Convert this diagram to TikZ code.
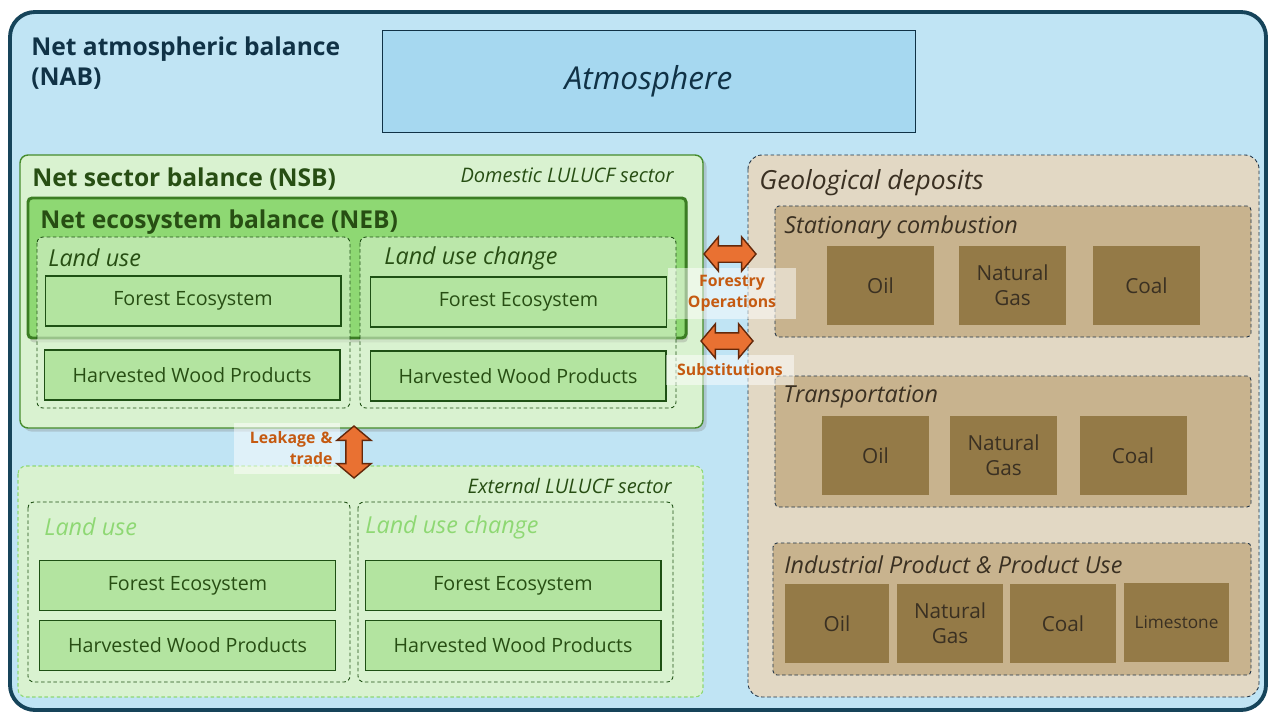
\documentclass[tikz,border=0pt]{standalone}
\usepackage{fontspec}
\setmainfont{Open Sans}
\usepackage{tikz}
\usetikzlibrary{
	arrows.meta,
	shapes.arrows,
	shadows,
	positioning
}
\definecolor{NabLine}{RGB}{22,68,90}
\definecolor{NabFill}{RGB}{192,228,244}
\definecolor{NabText}{RGB}{16,50,70}
\definecolor{AtmoFill}{RGB}{166,216,240}
\definecolor{NsbFill}{RGB}{217,242,208}
\definecolor{NsbLine}{RGB}{70,140,45}
\definecolor{NebFill}{RGB}{142,216,115}
\definecolor{NebLine}{RGB}{59,125,35}
\definecolor{LeafFill}{RGB}{179,228,160}
\definecolor{LeafLine}{RGB}{30,80,20}
\definecolor{LeafText}{RGB}{39,78,19}
\definecolor{GeoFill}{RGB}{226,216,196}
\definecolor{GeoLine}{RGB}{30,50,70}
\definecolor{SrcFill}{RGB}{200,179,142}
\definecolor{FuelFill}{RGB}{148,122,71}
\definecolor{GeoText}{RGB}{58,48,34}
\definecolor{FlowFill}{RGB}{233,113,50}
\definecolor{FlowLine}{RGB}{100,40,10}
\definecolor{FlowText}{RGB}{197,90,17}

\begin{document}
\begin{tikzpicture}[x=0.02cm, y=-0.02cm,
		title/.style={font=\bfseries\fontsize{14}{17.6}\selectfont, anchor=west, inner sep=0pt, yshift=-0.04cm},
		tag/.style={font=\itshape\fontsize{13.3}{15}\selectfont, anchor=west, inner sep=0pt, yshift=-0.04cm},
		leaf/.style={draw=LeafLine, fill=LeafFill, line width=0.6pt, text=LeafText,
			minimum width=5.92cm, minimum height=1cm, inner sep=0pt, font=\fontsize{11.2}{13}\selectfont},
		fuel/.style={fill=FuelFill, text=GeoText, minimum width=2.14cm, minimum height=1.58cm,
			inner sep=0pt, align=center, font=\fontsize{11.8}{14}\selectfont},
		landbox/.style={draw=LeafLine, dash pattern=on 2pt off 1.5pt, line width=0.5pt,
			rounded corners=0.12cm, fill=NsbFill, fill opacity=0.6},
		srcbox/.style={draw=GeoLine, dash pattern=on 2pt off 1.5pt, line width=0.5pt,
			rounded corners=0.08cm, fill=SrcFill},
		flow/.style={shape=double arrow, draw=FlowLine, fill=FlowFill, line width=0.8pt,
			inner xsep=0pt, inner ysep=0.15cm, minimum width=0.66cm, minimum height=1.04cm,
			double arrow head extend=0.18cm, double arrow tip angle=100},
		flowlabel/.style={fill=white, fill opacity=0.5, text opacity=1, text=FlowText,
			font=\bfseries\fontsize{9}{12}\selectfont, inner sep=0pt}
	]
	\useasboundingbox (0,0) rectangle (1280,720);
	% atmosphere
	\draw[NabLine, fill=NabFill, line width=2.2pt, rounded corners=0.5cm] (10,12) rectangle (1266,710);
	\node[title, text=NabText, anchor=north west, align=left] (nab) at (31,34) {Net atmospheric balance\\(NAB)};
	\node[draw=NabText, fill=AtmoFill, line width=0.5pt, minimum width=10.66cm, minimum height=2.04cm,
		text=NabText, font=\itshape\fontsize{18}{20}\selectfont] (atmo) at (648.5,81) {Atmosphere};

	% domestic sector
	\draw[NsbLine, fill=NsbFill, line width=0.8pt, rounded corners=0.16cm,
		drop shadow={shadow xshift=2pt, shadow yshift=-2pt, opacity=0.3}] (20,155) rectangle (703,428);
	\node[title, text=LeafText] (nsb) at (32,177) {Net sector balance (NSB)};
	\node[tag, anchor=east, text=LeafText, font=\itshape\fontsize{11.4}{13}\selectfont] (domestic) at (674,173) {Domestic LULUCF sector};
	\draw[NebLine, fill=NebFill, line width=1.7pt, rounded corners=0.08cm,
		drop shadow={shadow xshift=1pt, shadow yshift=-2.5pt, opacity=0.3}] (28,198) rectangle (686,338);
	\node[title, text=LeafText] (neb) at (40,220) {Net ecosystem balance (NEB)};
	\draw[landbox] (37,237) rectangle (350,408);
	\draw[landbox] (360,237) rectangle (676,408);
	\node[tag, text=LeafText] (lu) at (48,256) {Land use};
	\node[tag, text=LeafText] (luc) at (384,256) {Land use change};
	\node[leaf] (lu-fe) at (193,301) {Forest Ecosystem};
	\node[leaf] (luc-fe) at (518.5,302) {Forest Ecosystem};
	\node[leaf] (lu-hwp) at (192,375) {Harvested Wood Products};
	\node[leaf] (luc-hwp) at (518,376) {Harvested Wood Products};

	% external sector
	\draw[NebFill, fill=NsbFill, line width=0.6pt, dash pattern=on 2pt off 1.5pt, rounded corners=0.16cm] (18,466) rectangle (703,697);
	\node[tag, anchor=east, text=LeafText, font=\itshape\fontsize{11.4}{13}\selectfont] (external) at (672,484) {External LULUCF sector};
	\draw[landbox] (28,502) rectangle (350,682);
	\draw[landbox] (358,502) rectangle (673,682);
	\node[tag, text=NebFill] (ext-lu) at (44,525) {Land use};
	\node[tag, text=NebFill] (ext-luc) at (365,525) {Land use change};
	\node[leaf] (ext-lu-fe) at (187.5,585.5) {Forest Ecosystem};
	\node[leaf] (ext-luc-fe) at (513,585.5) {Forest Ecosystem};
	\node[leaf] (ext-lu-hwp) at (187.5,645.5) {Harvested Wood Products};
	\node[leaf] (ext-luc-hwp) at (513,645.5) {Harvested Wood Products};

	% geological deposits
	\draw[GeoLine, fill=GeoFill, line width=0.5pt, dash pattern=on 2pt off 1.5pt, rounded corners=0.28cm] (748,155) rectangle (1259,697);
	\node[tag, text=GeoText, font=\itshape\fontsize{15}{17}\selectfont] (geo) at (759,181) {Geological deposits};
	\draw[srcbox] (775,206) rectangle (1251,337);
	\node[tag, text=GeoText] (stat) at (784,225) {Stationary combustion};
	\node[fuel] (stat-oil) at (880.5,285.5) {Oil};
	\node[fuel] (stat-gas) at (1012.5,285.5) {Natural\\Gas};
	\node[fuel] (stat-coal) at (1146.5,285.5) {Coal};
	\draw[srcbox] (775,376) rectangle (1251,507);
	\node[tag, text=GeoText] (trans) at (783,395) {Transportation};
	\node[fuel] (trans-oil) at (875.5,455.5) {Oil};
	\node[fuel] (trans-gas) at (1003.5,455.5) {Natural\\Gas};
	\node[fuel] (trans-coal) at (1133,455.5) {Coal};
	\draw[srcbox] (773,543) rectangle (1251,675);
	\node[tag, text=GeoText] (ippu) at (784,563) {Industrial Product \& Product Use};
	\node[fuel, minimum width=2.08cm] (ippu-oil) at (837,623.5) {Oil};
	\node[fuel, minimum width=2.12cm] (ippu-gas) at (950,623.5) {Natural\\Gas};
	\node[fuel, minimum width=2.12cm] (ippu-coal) at (1063,623.5) {Coal};
	\node[fuel, minimum width=2.1cm, font=\fontsize{9.8}{11}\selectfont] (ippu-lime) at (1176.5,622.5) {Limestone};

	% exchanges
	\node[flowlabel, minimum width=2.56cm, minimum height=1.02cm, align=center] (forestry) at (732,293.5) {Forestry\\Operations};
	\node[flowlabel, minimum width=2.56cm, minimum height=0.6cm] (subst) at (730,370) {Substitutions};
	\node[flowlabel, minimum width=2.12cm, minimum height=1.02cm, align=right, text width=1.82cm] (leakage) at (287,448.5) {Leakage \&\\trade};
	\node[flow] (forestry-arrow) at (730,254) {};
	\node[flow] (subst-arrow) at (727,341) {};
	\node[flow, rotate=90] (leakage-arrow) at (354,452) {};
\end{tikzpicture}
\end{document}
